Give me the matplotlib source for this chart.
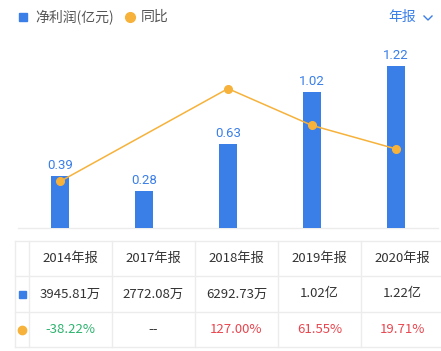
import matplotlib
matplotlib.use("Agg")
import matplotlib.pyplot as plt
import numpy as np

plt.rcParams['font.family'] = ['Noto Sans CJK SC', 'DejaVu Sans']

years = ["2014年报", "2017年报", "2018年报", "2019年报", "2020年报"]
profit = [0.39, 0.28, 0.63, 1.02, 1.22]           # 亿元
yoy = [-38.22, None, 127.00, 61.55, 19.71]        # %
profit_text = ["3945.81万", "2772.08万", "6292.73万", "1.02亿", "1.22亿"]
yoy_text = ["-38.22%", "--", "127.00%", "61.55%", "19.71%"]

BLUE = "#3a7ee8"
ORANGE = "#f6b23a"
GRID = "#ececec"
TXT = "#333333"
GREEN = "#2db36f"
RED = "#e8464f"

W, H = 441, 351
fig = plt.figure(figsize=(W / 100, H / 100), dpi=100)

def px_axes(x0, y0, x1, y1):
    return fig.add_axes([x0 / W, 1 - y1 / H, (x1 - x0) / W, (y1 - y0) / H])

# main chart
ax = px_axes(18, 40, 438, 228)
x = np.arange(len(years))
ax.bar(x, profit, width=0.21, color=BLUE, zorder=2)
for xi, v in zip(x, profit):
    ax.text(xi, v + 0.03, f"{v:.2f}", ha="center", va="bottom",
            color=BLUE, fontsize=9.5, family=['Roboto', 'DejaVu Sans'])
ax.set_xlim(-0.5, len(years) - 0.5)
ax.set_ylim(0, 1.4135)
ax.axis("off")

ax2 = ax.twinx()
lx = [xi for xi, v in zip(x, yoy) if v is not None]
ly = [v for v in yoy if v is not None]
ax2.plot(lx, ly, color=ORANGE, lw=1.1, marker="o", ms=5.5, zorder=3)
ax2.set_ylim(-121, 213.5)
ax2.set_xlim(-0.5, len(years) - 0.5)
ax2.axis("off")

# overlay in pixel coordinates
ov = fig.add_axes([0, 0, 1, 1], zorder=-1)
ov.set_xlim(0, W)
ov.set_ylim(H, 0)
ov.axis("off")

ov.plot([18, 438], [228, 228], color=GRID, lw=1)

# legend
ov.add_patch(plt.Rectangle((19, 13), 8, 8, color=BLUE))
ov.text(35, 17, "净利润(亿元)", va="center", ha="left", fontsize=10, color="#555555")
ov.plot([130], [17], marker="o", ms=7, color=ORANGE)
ov.text(141, 17, "同比", va="center", ha="left", fontsize=10, color="#555555")
ov.text(388, 17, "年报", va="center", ha="left", fontsize=10, color=BLUE)
ov.plot([424, 428, 432], [16, 20, 16], color=BLUE, lw=1)

# table
rows_y = [241, 276, 312, 347]
cols_x = [15, 29, 112, 195, 278, 361, 444]
for yy in rows_y:
    ov.plot([15, 441], [yy, yy], color=GRID, lw=1)
for xx in cols_x:
    ov.plot([xx, xx], [241, 347], color=GRID, lw=1)

centers = [(cols_x[i] + cols_x[i + 1]) / 2 for i in range(1, 6)]
ry = [(rows_y[i] + rows_y[i + 1]) / 2 for i in range(3)]
for cx, t in zip(centers, years):
    ov.text(cx, ry[0], t, ha="center", va="center", fontsize=9.5, color=TXT)
for cx, t in zip(centers, profit_text):
    ov.text(cx, ry[1], t, ha="center", va="center", fontsize=9.5, color=TXT)
for cx, t, v in zip(centers, yoy_text, yoy):
    c = TXT if v is None else (GREEN if v < 0 else RED)
    fam = ['DejaVu Sans'] if v is None else ['Noto Sans CJK SC', 'DejaVu Sans']
    ov.text(cx, ry[2], t, ha="center", va="center", fontsize=9.5, color=c, family=fam)

ov.add_patch(plt.Rectangle((18.5, ry[1] - 3.5), 7, 7, color=BLUE))
ov.plot([22], [ry[2]], marker="o", ms=6, color=ORANGE)

fig.savefig("out.png", dpi=100)
